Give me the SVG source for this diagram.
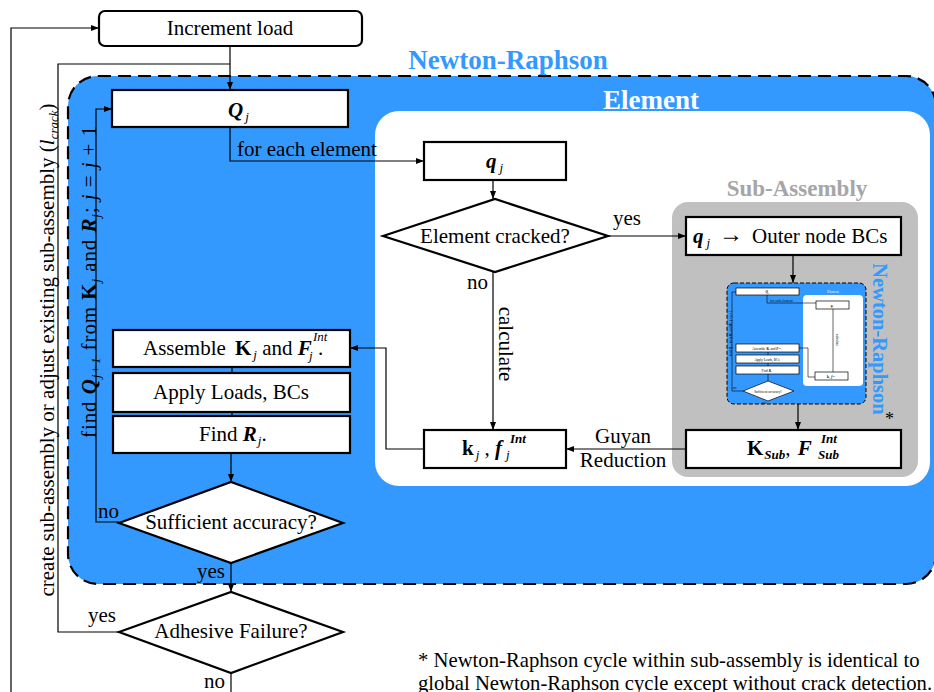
<svg xmlns="http://www.w3.org/2000/svg" width="934" height="692" viewBox="0 0 934 692" font-family="Liberation Serif, serif">
<defs>
<marker id="ah" markerWidth="8" markerHeight="6" refX="8" refY="3" orient="auto" markerUnits="userSpaceOnUse"><path d="M0,0 L8,3 L0,6 Z" fill="#000"/></marker>
<style>
.t{font-family:"Liberation Serif",serif;font-size:21px;fill:#000}
.b{font-weight:bold}
.i{font-style:italic}
.s{font-size:13px}
.box{fill:#fff;stroke:#000;stroke-width:2.2}
.conn{fill:none;stroke:#000;stroke-width:1.2}
.m{font-family:"Liberation Serif",serif;font-size:3.4px;fill:#000}
.mbox{fill:#fff;stroke:#000;stroke-width:0.7}
.mconn{fill:none;stroke:#000;stroke-width:0.6}
</style>
</defs>

<g id="newton-raphson">
<rect x="68" y="76" width="868" height="508" rx="30" fill="#3399ff" stroke="#000" stroke-width="2.2" stroke-dasharray="13,7"/>
<text x="508" y="69" class="t b" text-anchor="middle" style="font-size:27px;fill:#3399ff">Newton-Raphson</text>
</g>

<g id="element">
<rect x="375" y="111" width="555" height="375" rx="24" fill="#fff"/>
<text x="651" y="109" class="t b" text-anchor="middle" style="font-size:27px;fill:#fff">Element</text>
</g>

<g id="sub-assembly">
<rect x="672" y="202" width="246" height="275" rx="16" fill="#c0c0c0"/>
<text x="797" y="196" class="t b" text-anchor="middle" style="font-size:23px;fill:#a6a6a6">Sub-Assembly</text>
<text class="t b" text-anchor="middle" transform="translate(873,339) rotate(90)" style="font-size:20.5px;fill:#3399ff">Newton-Raphson</text>
<text x="885" y="425" class="t" style="font-size:18px">*</text>
</g>

<g id="increment-load">
<rect x="99" y="11" width="263" height="35" rx="6" class="box"/>
<text x="230" y="35" class="t" text-anchor="middle">Increment load</text>
</g>

<g id="Qj">
<rect x="112" y="90" width="236" height="37" class="box"/>
<text x="228" y="117" class="t"><tspan class="b i">Q</tspan><tspan class="s i" dx="2" dy="4">j</tspan></text>
</g>

<g id="qj">
<rect x="424" y="142" width="142" height="38" class="box"/>
<text x="486" y="168" class="t"><tspan class="b i">q</tspan><tspan class="s i" dx="3" dy="4">j</tspan></text>
</g>

<g id="element-cracked">
<polygon points="383,236 495,199 608,236 495,272" class="box"/>
<text x="495" y="243" class="t" text-anchor="middle">Element cracked?</text>
</g>

<g id="outer-node">
<rect x="686" y="217" width="215" height="38" class="box"/>
<text x="693" y="243" class="t"><tspan class="b i">q</tspan><tspan class="s i" dx="3" dy="4">j</tspan></text>
<text x="719" y="242" class="t" style="font-size:24px">→</text>
<text x="752" y="243" class="t">Outer node BCs</text>
</g>

<g id="mini-nr">
<rect x="727" y="283" width="139" height="121" rx="7" fill="#3399ff" stroke="#000" stroke-width="1" stroke-dasharray="4,2"/>
<rect x="803" y="295" width="60" height="91" rx="4" fill="#fff"/>
<text x="833" y="293" class="m" text-anchor="middle" style="fill:#fff">Element</text>
<rect x="736" y="288" width="63" height="7" class="mbox"/>
<text x="767" y="293" class="m b i" text-anchor="middle">Q<tspan font-size="2.2" dy="0.8">j</tspan></text>
<rect x="816" y="301" width="33" height="8" class="mbox"/>
<text x="832" y="306.5" class="m b i" text-anchor="middle">q<tspan font-size="2.2" dy="0.8">j</tspan></text>
<rect x="736" y="344" width="63" height="8" class="mbox"/>
<text x="767" y="349.5" class="m" text-anchor="middle">Assemble <tspan class="b">K</tspan><tspan font-size="2.2" dy="0.8">j</tspan><tspan dy="-0.8"> and </tspan><tspan class="b i">F</tspan><tspan font-size="2.2" dy="-1">Int</tspan><tspan dy="1">.</tspan></text>
<rect x="736" y="355" width="63" height="8" class="mbox"/>
<text x="767" y="360.5" class="m" text-anchor="middle">Apply Loads, BCs</text>
<rect x="736" y="366" width="63" height="8" class="mbox"/>
<text x="767" y="371.5" class="m" text-anchor="middle">Find <tspan class="b i">R</tspan><tspan font-size="2.2" dy="0.8">j</tspan><tspan dy="-0.8">.</tspan></text>
<rect x="815" y="372" width="33" height="8" class="mbox"/>
<text x="831" y="377.5" class="m" text-anchor="middle"><tspan class="b">k</tspan><tspan font-size="2.2" dy="0.8">j</tspan><tspan dy="-0.8">, </tspan><tspan class="b i">f</tspan><tspan font-size="2.2" dy="-1">Int</tspan></text>
<polygon points="743,391 768,381 794,391 768,401" class="mbox"/>
<text x="768" y="392.5" class="m" text-anchor="middle">Sufficient accuracy?</text>
<text x="733" y="389" class="m">no</text>
<text x="762" y="404" class="m">yes</text>
<text x="770" y="301.5" class="m">for each element</text>
<text class="m" text-anchor="middle" transform="translate(836,340) rotate(90)">calculate</text>
<text class="m" text-anchor="middle" transform="translate(732,333) rotate(-90)">find <tspan class="b i">Q</tspan><tspan font-size="2.2">j+1</tspan> from <tspan class="b">K</tspan><tspan font-size="2.2">j</tspan> and <tspan class="b i">R</tspan><tspan font-size="2.2">j</tspan>; j = j + 1</text>
<path d="M767,295 V303 H816 M833,309 V372 M815,377 H808 V348 H799 M768,352 V355 M768,363 V366 M768,374 V381 M743,391 H732 V292 H736" class="mconn"/>
</g>

<g id="K-sub">
<rect x="686" y="430" width="215" height="38" class="box"/>
<text x="747" y="455" class="t"><tspan class="b">K</tspan><tspan class="s b i" dx="1" dy="4">Sub</tspan><tspan dy="-4">, </tspan><tspan class="b i" dx="2">F</tspan></text>
<text x="821" y="443" class="t s b i">Int</text>
<text x="818" y="459" class="t s b i">Sub</text>
</g>

<g id="kj">
<rect x="424" y="430" width="142" height="38" class="box"/>
<text x="462" y="455" class="t"><tspan class="b">k</tspan><tspan class="s i" dx="2" dy="4">j</tspan><tspan dy="-4"> , </tspan><tspan class="b i">f</tspan></text>
<text x="510" y="443" class="t s b i">Int</text>
<text x="506" y="459" class="t s i">j</text>
</g>

<g id="assemble">
<rect x="113" y="330" width="237" height="37" class="box"/>
<text x="143" y="355" class="t">Assemble</text>
<text x="235" y="355" class="t"><tspan class="b">K</tspan><tspan class="s i" dx="2" dy="4">j</tspan><tspan dy="-4"> and </tspan><tspan class="b i">F</tspan></text>
<text x="313" y="341" class="t s i">Int</text>
<text x="309" y="360" class="t s i">j</text>
<text x="318" y="355" class="t">.</text>
</g>

<g id="apply">
<rect x="113" y="373" width="237" height="39" class="box"/>
<text x="231" y="399" class="t" text-anchor="middle">Apply Loads, BCs</text>
</g>

<g id="find-r">
<rect x="113" y="416" width="237" height="37" class="box"/>
<text x="199" y="441" class="t">Find <tspan class="b i">R</tspan><tspan class="s i" dx="1" dy="4">j</tspan><tspan dy="-4">.</tspan></text>
</g>

<g id="sufficient">
<polygon points="119,523 231,482 343,523 231,563" class="box"/>
<text x="231" y="529" class="t" text-anchor="middle">Sufficient accuracy?</text>
</g>

<g id="adhesive">
<polygon points="119,632 231,592 343,632 231,673" class="box"/>
<text x="231" y="638" class="t" text-anchor="middle">Adhesive Failure?</text>
</g>

<g id="connectors">
<path d="M11,692 V28 H99" class="conn" marker-end="url(#ah)"/>
<path d="M230,46 V90" class="conn" marker-end="url(#ah)"/>
<path d="M119,632 H58 V64 H230" class="conn"/>
<path d="M230,127 V161 H424" class="conn" marker-end="url(#ah)"/>
<path d="M493,180 V199" class="conn" marker-end="url(#ah)"/>
<path d="M608,236 H686" class="conn" marker-end="url(#ah)"/>
<path d="M493,272 V430" class="conn" marker-end="url(#ah)"/>
<path d="M793,255 V283" class="conn" marker-end="url(#ah)"/>
<path d="M798,404 V430" class="conn" marker-end="url(#ah)"/>
<path d="M686,449 H566" class="conn" marker-end="url(#ah)"/>
<path d="M424,449 H386 V348 H350" class="conn" marker-end="url(#ah)"/>
<path d="M232,367 V373 M232,412 V416" class="conn"/>
<path d="M231,453 V482" class="conn" marker-end="url(#ah)"/>
<path d="M119,522 H96 V109 H112" class="conn" marker-end="url(#ah)"/>
<path d="M231,563 V592" class="conn" marker-end="url(#ah)"/>
<path d="M231,673 V692" class="conn"/>
</g>

<g id="labels">
<text x="237" y="156" class="t">for each element</text>
<text x="613" y="225" class="t">yes</text>
<text x="467" y="289" class="t">no</text>
<text class="t" text-anchor="middle" transform="translate(499,344) rotate(90)">calculate</text>
<text x="623" y="443" class="t" text-anchor="middle">Guyan</text>
<text x="623" y="467" class="t" text-anchor="middle">Reduction</text>
<text x="98" y="518" class="t">no</text>
<text x="197" y="578" class="t">yes</text>
<text x="88" y="622" class="t">yes</text>
<text x="204" y="688" class="t">no</text>
<text class="t" text-anchor="middle" transform="translate(96,282) rotate(-90)" textLength="312" lengthAdjust="spacing">find <tspan class="b i">Q</tspan><tspan class="s i" dy="4">j+1</tspan><tspan dy="-4"> from </tspan><tspan class="b">K</tspan><tspan class="s i" dy="4">j</tspan><tspan dy="-4"> and </tspan><tspan class="b i">R</tspan><tspan class="s i" dy="4">j</tspan><tspan dy="-4">; </tspan><tspan class="i">j</tspan> = <tspan class="i">j</tspan> + 1</text>
<text class="t" text-anchor="middle" transform="translate(54,350) rotate(-90)">create sub-assembly or adjust existing sub-assembly (<tspan class="i">l</tspan><tspan class="s i" dy="4">crack</tspan><tspan dy="-4">)</tspan></text>
<text x="418" y="667" class="t" style="font-size:20.7px">* Newton-Raphson cycle within sub-assembly is identical to</text>
<text x="418" y="690" class="t" style="font-size:20.7px">global Newton-Raphson cycle except without crack detection.</text>
</g>
</svg>
